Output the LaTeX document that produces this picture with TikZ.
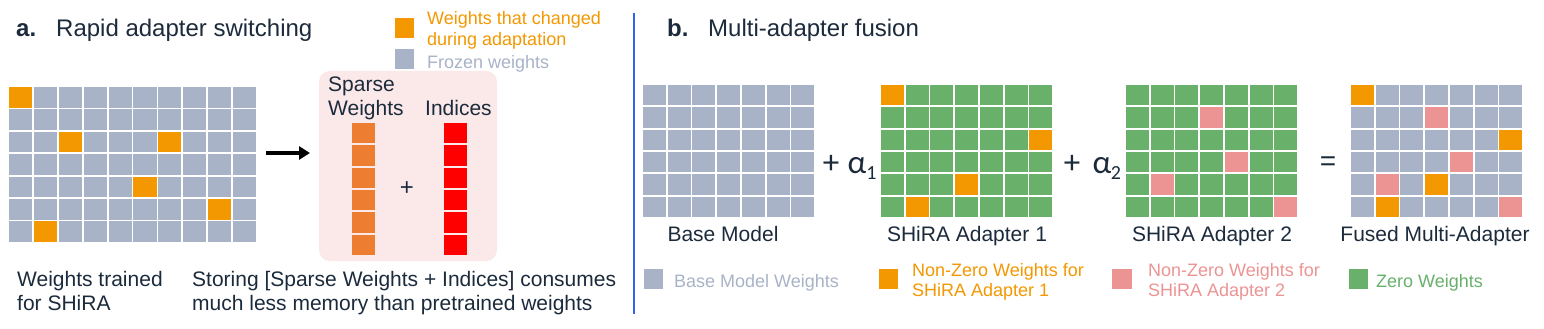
\documentclass[tikz,border=0pt]{standalone}
\usepackage{fontspec}
\setmainfont{Liberation Sans}
\newfontfamily\calfont{Carlito}
\usetikzlibrary{arrows.meta}
\definecolor{frozen}{HTML}{A9B3C8}
\definecolor{chg}{HTML}{F39800}
\definecolor{zero}{HTML}{69B06B}
\definecolor{pinkw}{HTML}{EC9494}
\definecolor{sparseor}{HTML}{ED7D31}
\definecolor{idxred}{HTML}{FF0000}
\definecolor{boxbg}{HTML}{FBE9E9}
\definecolor{ink}{HTML}{1C2B3C}
\definecolor{divblue}{HTML}{2F62F5}
% grid: x0, y0, pitch x, pitch y, cols, rows, colour
\newcommand{\wgrid}[7]{%
  \foreach \ci in {1,...,#5}{\foreach \cj in {1,...,#6}{%
    \fill[#7] ({#1+(\ci-1)*#3+0.9},{#2+(\cj-1)*#4+0.9}) rectangle ++({#3-1.8},{#4-1.8});}}}
% cell: x0, y0, pitch x, pitch y, col, row, colour
\newcommand{\wcell}[7]{%
  \fill[#7] ({#1+#5*#3+0.9},{#2+#6*#4+0.9}) rectangle ++({#3-1.8},{#4-1.8});}
\tikzset{
  lbl/.style={inner sep=0pt, text=ink, font=\fontsize{21}{24}\selectfont},
  ttl/.style={inner sep=0pt, text=ink, font=\fontsize{24}{28}\selectfont},
  leg/.style={inner sep=0pt, font=\fontsize{18}{20}\selectfont, align=left},
  op/.style={inner sep=0pt, text=ink, font=\calfont\fontsize{33}{35}\selectfont},
  sub/.style={inner sep=0pt, text=ink, font=\calfont\fontsize{20}{21}\selectfont},
}
\begin{document}
\begin{tikzpicture}[x=1pt,y=-1pt]
\useasboundingbox (0,0) rectangle (1544,329);
\fill[white] (0,0) rectangle (1544,329);

% ---------- panel a ----------
\node[ttl, anchor=base west, font=\bfseries\fontsize{24}{28}\selectfont] (ta) at (16,37) {a.};
\node[ttl, anchor=base west] (tat) at (56,37) {Rapid adapter switching};

% top legend
\fill[chg] (395,18) rectangle (414,38);
\node[leg, text=chg, anchor=base west] (lg1) at (427,25) {Weights that changed};
\node[leg, text=chg, anchor=base west] (lg1b) at (427,46) {during adaptation};
\fill[frozen] (395,49) rectangle (414,69);
\node[leg, text=frozen, anchor=base west] (lg2) at (427,68) {Frozen weights};

% left grid
\node[inner sep=0pt, minimum width=249pt, minimum height=157pt] (gridA) at (132.5,164.5) {};
\wgrid{8}{86}{24.9}{22.43}{10}{7}{frozen}
\foreach \c/\r in {0/0,2/2,6/2,5/4,8/5,1/6}{\wcell{8}{86}{24.9}{22.43}{\c}{\r}{chg}}

% arrow
\coordinate (arrS) at (266,153);
\coordinate (arrE) at (310,153);
\draw[line width=3.8pt, -{Triangle[length=11pt,width=13pt]}] (arrS) -- (arrE);

% pink box
\node[fill=boxbg, rounded corners=11pt, minimum width=178pt, minimum height=190pt, inner sep=0pt] (box) at (408,166) {};
\node[lbl, anchor=base west] (sp1) at (328,92) {Sparse};
\node[lbl, anchor=base west] (sp2) at (328,115) {Weights};
\node[lbl, anchor=base west] (ind) at (425,115) {Indices};
\wgrid{351}{122}{24.5}{22.33}{1}{6}{sparseor}
\wgrid{443}{122}{24.5}{22.33}{1}{6}{idxred}
\node[lbl, font=\fontsize{24}{26}\selectfont] (plusA) at (407,189) {+};

% bottom texts a
\node[lbl, anchor=base west] (wt1) at (17,286) {Weights trained};
\node[lbl, anchor=base west] (wt2) at (17,310) {for SHiRA};
\node[lbl, anchor=base west] (st1) at (192,286) {Storing [Sparse Weights + Indices] consumes};
\node[lbl, anchor=base west] (st2) at (192,310) {much less memory than pretrained weights};

% divider
\coordinate (dv1) at (634,13);
\coordinate (dv2) at (634,314);
\draw[divblue, line width=2pt] (dv1) -- (dv2);

% ---------- panel b ----------
\node[ttl, anchor=base west, font=\bfseries\fontsize{24}{28}\selectfont] (tb) at (667,37) {b.};
\node[ttl, anchor=base west] (tbt) at (708,37) {Multi-adapter fusion};

% base model
\wgrid{642}{84}{24.75}{22.33}{7}{6}{frozen}
\node[lbl, anchor=base] (lb1) at (723,241) {Base Model};

% + alpha1
\node[op] (p1) at (831,164) {+};
\node[op, anchor=base] (al1) at (857,173) {α};
\node[sub, anchor=base] (s1) at (871.5,179) {1};

% adapter 1
\wgrid{880}{84}{24.75}{22.33}{7}{6}{zero}
\foreach \c/\r in {0/0,6/2,3/4,1/5}{\wcell{880}{84}{24.75}{22.33}{\c}{\r}{chg}}
\node[lbl, anchor=base] (lb2) at (967,241) {SHiRA Adapter 1};

% + alpha2
\node[op] (p2) at (1072,164) {+};
\node[op, anchor=base] (al2) at (1102,173) {α};
\node[sub, anchor=base] (s2) at (1116,179) {2};

% adapter 2
\wgrid{1125}{84}{24.75}{22.33}{7}{6}{zero}
\foreach \c/\r in {3/1,4/3,1/4,6/5}{\wcell{1125}{84}{24.75}{22.33}{\c}{\r}{pinkw}}
\node[lbl, anchor=base] (lb3) at (1212,241) {SHiRA Adapter 2};

% equals
\node[op, font=\fontsize{28}{30}\selectfont] (eq) at (1328,164) {=};

% fused
\wgrid{1350}{84}{24.75}{22.33}{7}{6}{frozen}
\foreach \c/\r in {0/0,6/2,3/4,1/5}{\wcell{1350}{84}{24.75}{22.33}{\c}{\r}{chg}}
\foreach \c/\r in {3/1,4/3,1/4,6/5}{\wcell{1350}{84}{24.75}{22.33}{\c}{\r}{pinkw}}
\node[lbl, anchor=base] (lb4) at (1435,241) {Fused Multi-Adapter};

% bottom legend
\fill[frozen] (644,269) rectangle (663,289);
\node[leg, text=frozen, anchor=base west] (bl1) at (674,287) {Base Model Weights};
\fill[chg] (879,269) rectangle (898,289);
\node[leg, text=chg, anchor=base west] (bl2a) at (912,276) {Non-Zero Weights for};
\node[leg, text=chg, anchor=base west] (bl2b) at (912,296) {SHiRA Adapter 1};
\fill[pinkw] (1112,269) rectangle (1132,289);
\node[leg, text=pinkw, anchor=base west] (bl3a) at (1148,276) {Non-Zero Weights for};
\node[leg, text=pinkw, anchor=base west] (bl3b) at (1148,296) {SHiRA Adapter 2};
\fill[zero] (1349,269) rectangle (1368,289);
\node[leg, text=zero, anchor=base west] (bl4) at (1376,287) {Zero Weights};
\end{tikzpicture}
\end{document}
